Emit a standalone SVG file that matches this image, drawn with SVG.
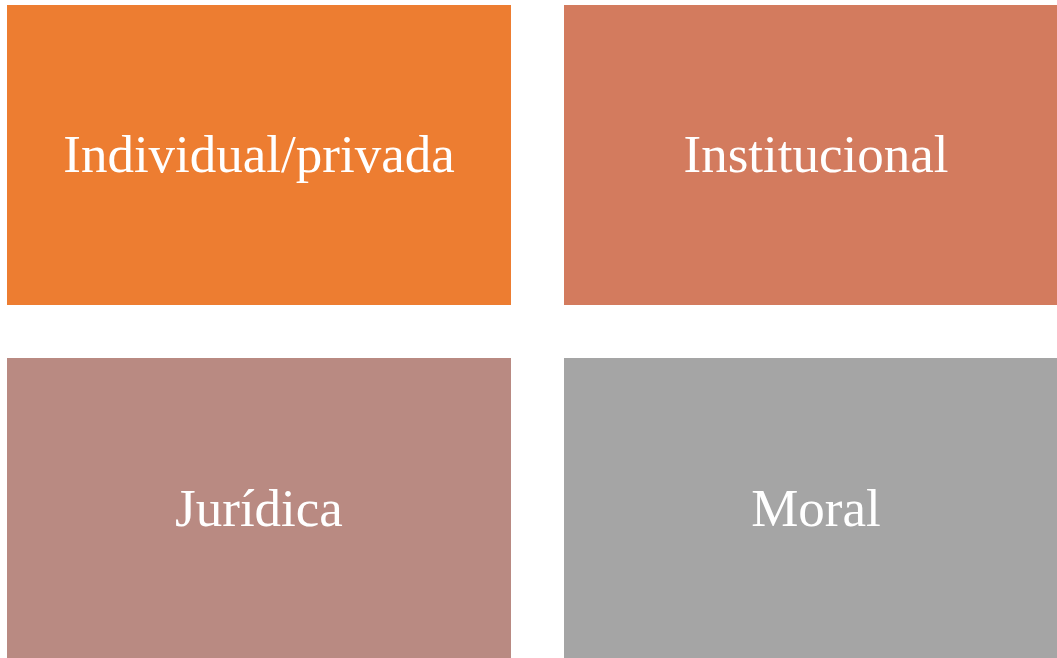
<svg xmlns="http://www.w3.org/2000/svg" width="1057" height="658" viewBox="0 0 1057 658">
<style>
text{font-family:"Liberation Serif","Times New Roman",serif;font-size:53px;fill:#fff;text-anchor:middle}
</style>
<rect width="1057" height="658" fill="#fff"/>
<g id="n1"><rect x="7" y="5" width="504" height="300" fill="#ED7D31"/><text x="259" y="172">Individual/privada</text></g>
<g id="n2"><rect x="564" y="5" width="493" height="300" fill="#D37B5E"/><text x="816" y="172">Institucional</text></g>
<g id="n3"><rect x="7" y="358" width="504" height="300" fill="#B98A82"/><text x="259" y="526">Jurídica</text></g>
<g id="n4"><rect x="564" y="358" width="493" height="300" fill="#A5A5A5"/><text x="816" y="526">Moral</text></g>
<g id="connectors"/>
</svg>
